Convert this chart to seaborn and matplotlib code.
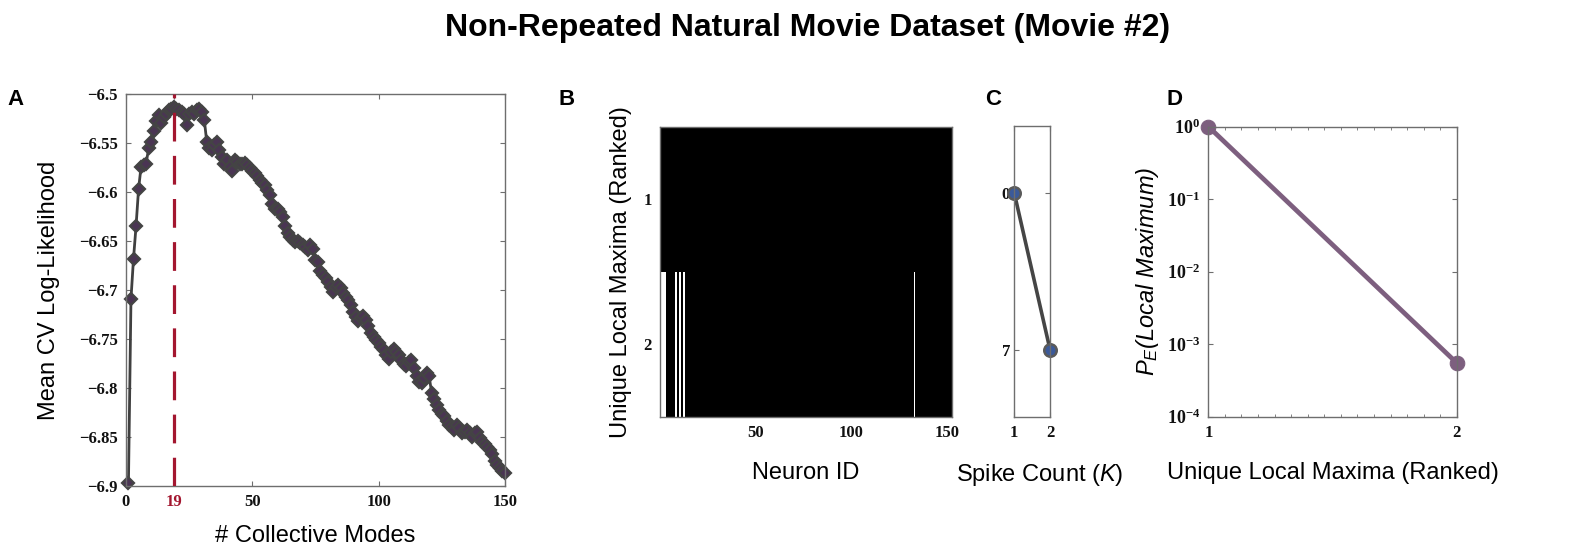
import numpy as np
import pandas as pd
import matplotlib
matplotlib.use("Agg")
import matplotlib.pyplot as plt
from matplotlib.colors import ListedColormap
from matplotlib.ticker import MultipleLocator, NullLocator
import seaborn as sns

# ---- data ----
# A: mean cross-validated log-likelihood vs number of collective modes (1..150)
cv_loglik = [
    -6.897, -6.709, -6.668, -6.635, -6.597, -6.574, -6.572, -6.571, -6.555, -6.549,
    -6.538, -6.527, -6.521, -6.530, -6.523, -6.520, -6.516, -6.515, -6.513, -6.515,
    -6.516, -6.518, -6.520, -6.532, -6.520, -6.518, -6.520, -6.516, -6.515, -6.518,
    -6.526, -6.549, -6.555, -6.557, -6.552, -6.549, -6.557, -6.564, -6.571, -6.567,
    -6.574, -6.578, -6.567, -6.569, -6.571, -6.571, -6.570, -6.572, -6.575, -6.578,
    -6.581, -6.584, -6.588, -6.591, -6.593, -6.598, -6.603, -6.612, -6.617, -6.617,
    -6.620, -6.625, -6.635, -6.642, -6.646, -6.649, -6.651, -6.650, -6.652, -6.654,
    -6.656, -6.659, -6.654, -6.658, -6.669, -6.671, -6.681, -6.685, -6.688, -6.692,
    -6.697, -6.702, -6.697, -6.695, -6.698, -6.703, -6.707, -6.710, -6.715, -6.722,
    -6.727, -6.732, -6.729, -6.726, -6.731, -6.737, -6.744, -6.748, -6.751, -6.754,
    -6.758, -6.761, -6.766, -6.770, -6.763, -6.760, -6.763, -6.766, -6.771, -6.775,
    -6.777, -6.773, -6.771, -6.780, -6.788, -6.794, -6.795, -6.790, -6.785, -6.788,
    -6.805, -6.811, -6.817, -6.822, -6.826, -6.829, -6.834, -6.838, -6.840, -6.843,
    -6.838, -6.841, -6.846, -6.845, -6.843, -6.846, -6.850, -6.846, -6.845, -6.851,
    -6.855, -6.857, -6.860, -6.863, -6.867, -6.874, -6.879, -6.882, -6.885, -6.887,
]
n_modes = list(range(1, len(cv_loglik) + 1))
best_modes = 19

# B: binary patterns of the unique local maxima
n_neurons = 152
maxima_rank = [1, 2]
active_neurons = [[], [1, 2, 3, 9, 11, 13, 133]]

# C: spike count of each local maximum
spike_count = [0, 7]

# D: empirical probability of landing in each local maximum
p_local_max = [0.99945, 5.5e-4]

# ---- style ----
sns.set_theme(style="white")
plt.rcParams["font.family"] = ["Liberation Sans", "DejaVu Sans"]
plt.rcParams["text.color"] = "black"
plt.rcParams["axes.labelcolor"] = "black"
plt.rcParams["mathtext.fontset"] = "custom"
plt.rcParams["mathtext.rm"] = "Liberation Sans"
plt.rcParams["mathtext.it"] = "Liberation Sans:italic"
plt.rcParams["mathtext.bf"] = "Liberation Serif:bold"

spine_col = "#6e6e6e"
line_col = "#404040"
red = "#a3162f"
mauve = "#7d5f7f"
tick_font = dict(family="Liberation Serif", weight="bold", size=12)
label_size = 17


def style_axes(ax):
    for s in ax.spines.values():
        s.set_visible(True)
        s.set_color(spine_col)
        s.set_linewidth(1.0)
    ax.tick_params(direction="in", length=3.5, width=0.8, colors=spine_col,
                   top=True, right=True, bottom=True, left=True,
                   labelcolor="#111111", pad=6)
    ax.tick_params(which="minor", direction="in", length=2, width=0.6,
                   colors=spine_col, top=True, bottom=True)
    for lab in ax.get_xticklabels() + ax.get_yticklabels():
        lab.set_fontproperties(matplotlib.font_manager.FontProperties(**tick_font))


fig = plt.figure(figsize=(15.74, 5.6), dpi=100)

# ---- A ----
axA = fig.add_axes([0.080, 0.132, 0.2408, 0.700])
sns.lineplot(x=n_modes, y=cv_loglik, ax=axA, color=line_col, lw=2.0,
             marker="D", markersize=6.5, markerfacecolor="#4a3553",
             markeredgecolor="#444444", markeredgewidth=1.6, clip_on=False)
axA.axvline(best_modes, color=red, lw=2.3, dashes=(9, 4.5), zorder=3)
axA.set_xlim(0, 150)
axA.set_ylim(-6.9, -6.5)
axA.set_xticks([0, best_modes, 50, 100, 150])
axA.set_yticks(np.round(np.arange(-6.9, -6.49, 0.05), 2))
axA.set_yticklabels(["\u22126.9", "\u22126.85", "\u22126.8", "\u22126.75", "\u22126.7",
                     "\u22126.65", "\u22126.6", "\u22126.55", "\u22126.5"])
style_axes(axA)
axA.get_xticklabels()[1].set_color(red)
axA.set_xlabel("# Collective Modes", fontsize=label_size)
axA.set_ylabel("Mean CV Log-Likelihood", fontsize=label_size)
axA.xaxis.set_label_coords(0.5, -0.10)
axA.yaxis.set_label_coords(-0.175, 0.5)

# ---- B ----
axB = fig.add_axes([0.4193, 0.2554, 0.1855, 0.518])
patterns = np.zeros((len(maxima_rank), n_neurons))
for r, neurons in enumerate(active_neurons):
    for n in neurons:
        patterns[r, n - 1] = 1
pattern_df = pd.DataFrame(patterns, index=maxima_rank, columns=range(1, n_neurons + 1))
sns.heatmap(pattern_df, ax=axB, cmap=ListedColormap(["black", "white"]),
            vmin=0, vmax=1, cbar=False, xticklabels=False, yticklabels=False)
axB.set_xticks([49.5, 99.5, 149.5])
axB.set_xticklabels(["50", "100", "150"])
axB.set_yticks([0.5, 1.5])
axB.set_yticklabels(["1", "2"], rotation=0)
style_axes(axB)
axB.set_xlabel("Neuron ID", fontsize=label_size)
axB.set_ylabel("Unique Local Maxima (Ranked)", fontsize=label_size)
axB.xaxis.set_label_coords(0.5, -0.155)
axB.yaxis.set_label_coords(-0.095, 0.5)

# ---- C ----
axC = fig.add_axes([0.6444, 0.256, 0.0227, 0.519])
sns.lineplot(x=maxima_rank, y=spike_count, ax=axC, color="#454545", lw=2.6,
             marker="o", markersize=9, markerfacecolor="#3b5a9a",
             markeredgecolor="#5a5a5a", markeredgewidth=1.8, clip_on=False)
axC.set_xlim(1, 2)
axC.set_ylim(10, -3)
axC.set_xticks([1, 2])
axC.set_yticks(spike_count)
style_axes(axC)
axC.tick_params(axis="y", pad=3)
axC.set_xlabel("Spike Count ($\\mathit{K}$)", fontsize=label_size)
axC.set_ylabel("")
axC.xaxis.set_label_coords(0.72, -0.155)

# ---- D ----
axD = fig.add_axes([0.7677, 0.256, 0.1578, 0.518])
sns.lineplot(x=maxima_rank, y=p_local_max, ax=axD, color=mauve, lw=3.4,
             marker="o", markersize=10.5, markerfacecolor=mauve,
             markeredgecolor=mauve, clip_on=False)
axD.set_yscale("log")
axD.set_xlim(1, 2)
axD.set_ylim(1e-4, 1)
axD.set_xticks([1, 2])
axD.xaxis.set_minor_locator(MultipleLocator(1 / 15))
decades = [1e-4, 1e-3, 1e-2, 1e-1, 1]
axD.set_yticks(decades)
axD.set_yticklabels([r"$\mathbf{10^{-4}}$", r"$\mathbf{10^{-3}}$", r"$\mathbf{10^{-2}}$",
                     r"$\mathbf{10^{-1}}$", r"$\mathbf{10^{0}}$"])
axD.yaxis.set_minor_locator(NullLocator())
style_axes(axD)
for lab in axD.get_yticklabels():
    lab.set_fontsize(13)
axD.set_xlabel("Unique Local Maxima (Ranked)", fontsize=label_size)
axD.set_ylabel("$\\mathit{P_E}$(Local Maximum)", fontsize=label_size, style="italic")
axD.xaxis.set_label_coords(0.5, -0.155)
axD.yaxis.set_label_coords(-0.19, 0.5)

# ---- title and panel letters ----
fig.text(0.513, 1 - 36 / 560, "Non-Repeated Natural Movie Dataset (Movie #2)",
         ha="center", va="baseline", fontsize=23, weight="bold")
for letter, xpix in zip("ABCD", [7, 558, 985, 1167]):
    fig.text(xpix / 1574, 1 - 105 / 560, letter, ha="left", va="baseline",
             fontsize=16, weight="bold")

fig.savefig("out.png", dpi=100)
